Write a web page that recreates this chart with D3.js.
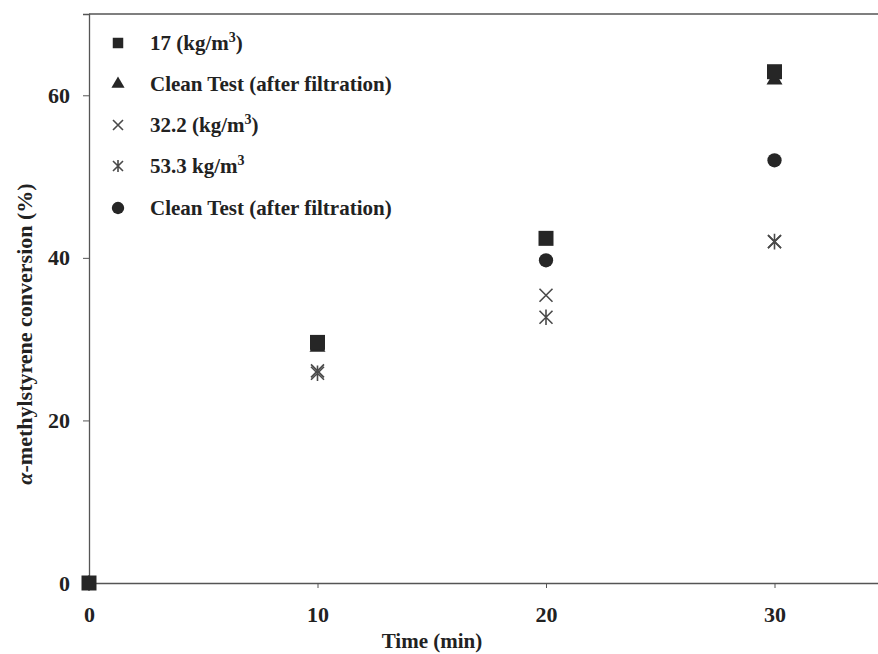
<!DOCTYPE html>
<html><head><meta charset="utf-8">
<script src="https://cdn.jsdelivr.net/npm/d3@7/dist/d3.min.js"></script>
<style>
html,body{margin:0;padding:0;background:#fff;}
svg{display:block;}
text{font-family:"Liberation Serif","Times New Roman",serif;font-weight:bold;fill:#222;}
</style></head>
<body>
<script>
const times = [0, 10, 20, 30];
const seriesNames = ["17 (kg/m³)", "Clean Test (after filtration)", "32.2 (kg/m³)", "53.3 kg/m³", "Clean Test (after filtration)"];
const s17 = [0, 29.6, 42.4, 62.9];
const cleanA = [null, 29.0, null, 61.9];
const s32 = [0, 26.1, 35.4, 42.0];
const s53 = [0, 25.8, 32.7, 42.0];
const cleanB = [null, null, 39.7, 52.0];
const xTicks = [0, 10, 20, 30];
const yTicks = [0, 20, 40, 60];

const W = 878, H = 654;
const svg = d3.select("body").append("svg").attr("width", W).attr("height", H);
const x = d3.scaleLinear().domain([0, 35]).range([89, 89 + 35 * 22.85]);
const y = d3.scaleLinear().domain([0, 70]).range([583, 14]);

const ink = "#262626";

// frame top line
svg.append("line").attr("x1", x(0)).attr("x2", W).attr("y1", y(70)).attr("y2", y(70))
  .attr("stroke", "#555").attr("stroke-width", 1.3);

// x axis
const gx = svg.append("g").attr("transform", `translate(0,${y(0)})`)
  .call(d3.axisBottom(x).tickValues(xTicks).tickSize(5).tickPadding(18).tickFormat(d3.format("d")));
gx.select(".domain").attr("stroke", "#555").attr("stroke-width", 1.3);
gx.selectAll(".tick line").attr("stroke", "#555");
gx.selectAll(".tick text").attr("font-size", 22).attr("fill", "#222")
  .attr("font-family", "Liberation Serif").attr("font-weight", "bold");

// y axis
const gy = svg.append("g").attr("transform", `translate(${x(0)},0)`)
  .call(d3.axisLeft(y).tickValues(yTicks).tickSize(6).tickPadding(13).tickFormat(d3.format("d")));
gy.select(".domain").attr("stroke", "#555").attr("stroke-width", 1.3);
gy.selectAll(".tick line").attr("stroke", "#555");
gy.selectAll(".tick text").attr("font-size", 22).attr("fill", "#222")
  .attr("font-family", "Liberation Serif").attr("font-weight", "bold");

// axis titles
svg.append("text").attr("x", 432).attr("y", 648).attr("text-anchor", "middle")
  .attr("font-size", 21).text("Time (min)");
const yl = svg.append("text").attr("transform", "translate(32,334) rotate(-90)")
  .attr("text-anchor", "middle").attr("font-size", 22);
yl.append("tspan").attr("font-style", "italic").text("α");
yl.append("tspan").text("-methylstyrene conversion (%)");

// marker generators
const sq = d3.symbol().type(d3.symbolSquare).size(15 * 15)();
const tri = d3.symbol().type(d3.symbolTriangle).size(110)();
const circ = d3.symbol().type(d3.symbolCircle).size(160)();
function xPath(r) { return `M${-r},${-r}L${r},${r}M${-r},${r}L${r},${-r}`; }
function starPath(r) { return `M${-r},${-r}L${r},${r}M${-r},${r}L${r},${-r}M0,${-r * 1.2}L0,${r * 1.2}`; }

const defs = [
  {name: seriesNames[0], vals: s17, kind: "fill", d: sq},
  {name: seriesNames[1], vals: cleanA, kind: "fill", d: tri},
  {name: seriesNames[2], vals: s32, kind: "stroke", d: xPath(6.5)},
  {name: seriesNames[3], vals: s53, kind: "stroke", d: starPath(6.5)},
  {name: seriesNames[4], vals: cleanB, kind: "fill", d: circ}
];

function styleMark(sel, def) {
  if (def.kind === "fill") sel.attr("fill", ink).attr("stroke", "none");
  else sel.attr("fill", "none").attr("stroke", "#4a4a4a").attr("stroke-width", 1.6);
}

// draw order: triangles, circles, x, asterisk, squares on top
const order = [1, 4, 2, 3, 0];
const plot = svg.append("g");
order.forEach(i => {
  const def = defs[i];
  const pts = times.map((t, k) => ({t, v: def.vals[k]})).filter(p => p.v !== null);
  plot.selectAll(null).data(pts).enter().append("path")
    .attr("d", def.d)
    .attr("transform", p => `translate(${x(p.t)},${y(p.v)})`)
    .call(s => styleMark(s, def));
});

// legend
const legY = [43, 84, 125, 166, 208];
const leg = svg.append("g");
defs.forEach((def, i) => {
  const g = leg.append("g").attr("transform", `translate(0,${legY[i]})`);
  const ld = def.d === sq ? d3.symbol().type(d3.symbolSquare).size(110)() :
             def.d === tri ? d3.symbol().type(d3.symbolTriangle).size(75)() :
             def.d === circ ? d3.symbol().type(d3.symbolCircle).size(120)() :
             (i === 2 ? xPath(5) : starPath(5));
  g.append("path").attr("d", ld).attr("transform", "translate(118,0)").call(s => styleMark(s, def));
  const t = g.append("text").attr("x", 150).attr("y", 7).attr("font-size", 21);
  if (i === 0) { t.append("tspan").text("17 (kg/m"); t.append("tspan").attr("dy", -8).attr("font-size", 14).text("3"); t.append("tspan").attr("dy", 8).text(")"); }
  else if (i === 2) { t.append("tspan").text("32.2 (kg/m"); t.append("tspan").attr("dy", -8).attr("font-size", 14).text("3"); t.append("tspan").attr("dy", 8).text(")"); }
  else if (i === 3) { t.append("tspan").text("53.3 kg/m"); t.append("tspan").attr("dy", -8).attr("font-size", 14).text("3"); }
  else t.text(def.name);
});
</script>
</body></html>
